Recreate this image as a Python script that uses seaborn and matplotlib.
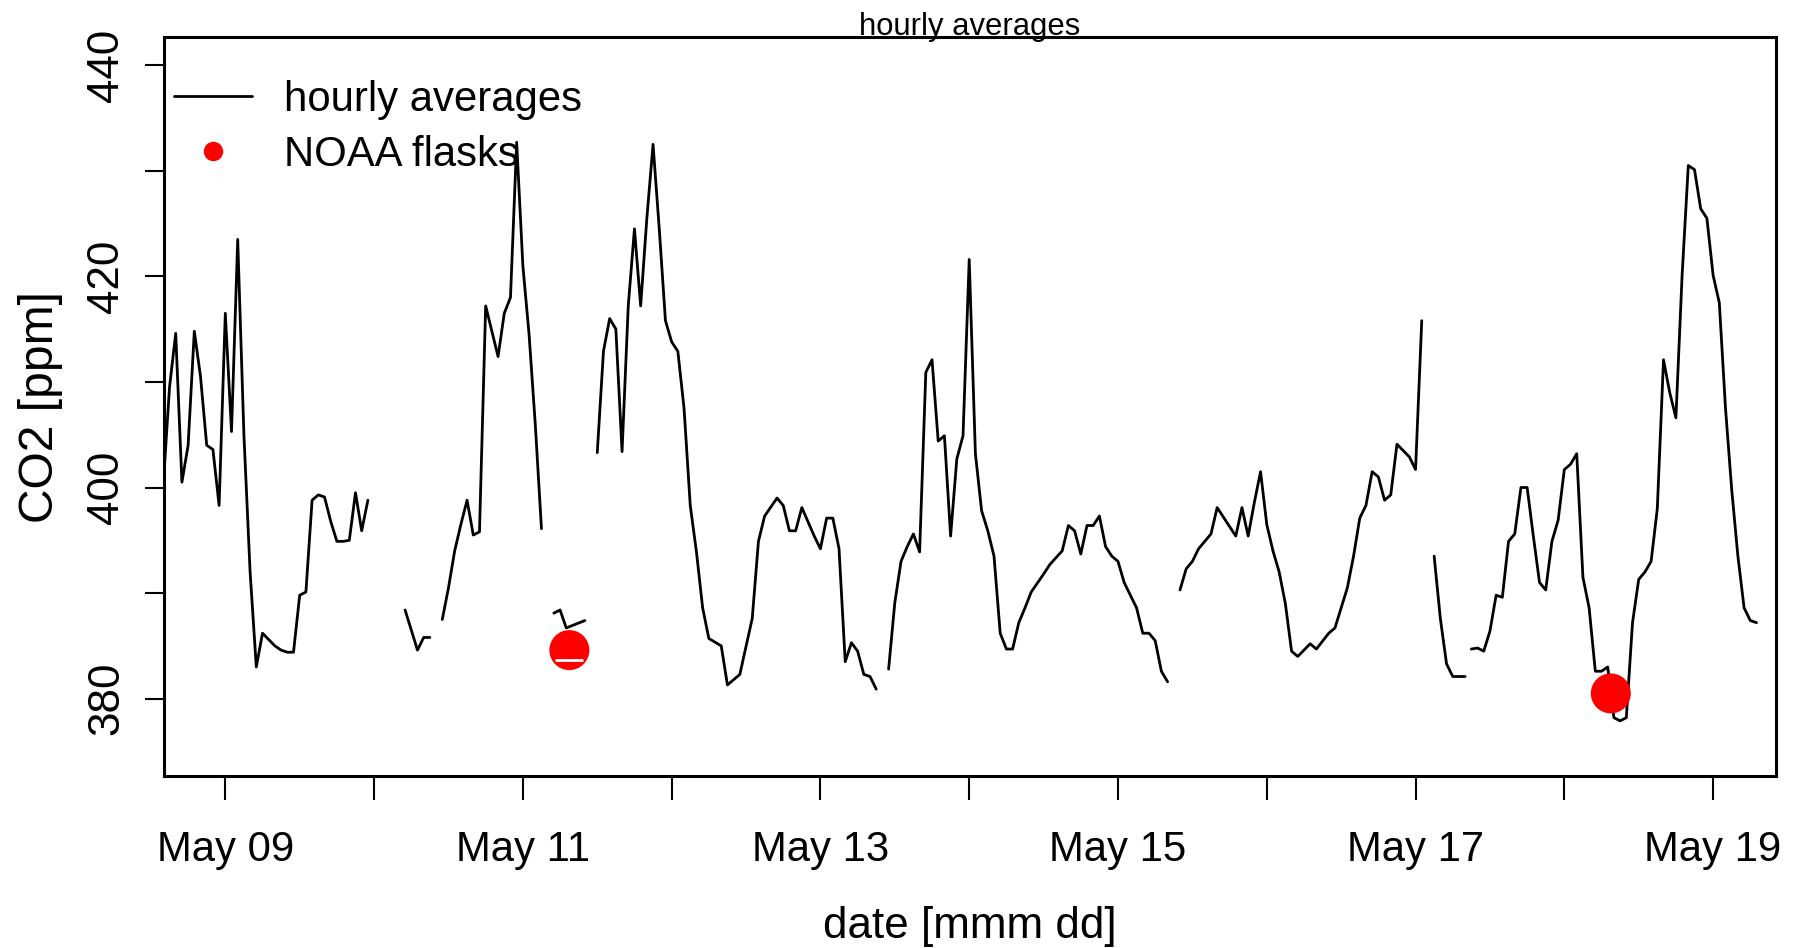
import matplotlib
matplotlib.use("Agg")
import matplotlib.pyplot as plt
from matplotlib.lines import Line2D
import pandas as pd
import seaborn as sns

# Hourly CO2 averages, hours counted from May 09 00:00; each list is one
# uninterrupted stretch of the record (gaps between them are missing data).
seg1_hours = [-10, -9, -8, -7, -6, -5, -4, -3, -2, -1, 0, 1, 2, 3, 4, 5, 6, 7,
              8, 9, 10, 11, 12, 13, 14, 15, 16, 17, 18, 19, 20, 21, 22, 23]
seg1_co2 = [400.3, 409.5, 414.6, 400.5, 404.0, 414.8, 410.5, 404.0, 403.6, 398.3,
            416.5, 405.3, 423.5, 405.0, 392.0, 383.0, 386.2, 385.6, 385.0, 384.6,
            384.4, 384.4, 389.8, 390.1, 398.8, 399.3, 399.1, 396.8, 394.9, 394.9,
            395.0, 399.5, 395.9, 398.8]

seg2_hours = [29, 31, 32, 33]
seg2_co2 = [388.4, 384.6, 385.8, 385.8]

seg3_hours = [35, 36, 37, 38, 39, 40, 41, 42, 43, 44, 45, 46, 47, 48, 49, 50, 51]
seg3_co2 = [387.5, 390.5, 394.0, 396.5, 398.8, 395.5, 395.8, 417.2, 414.8, 412.4,
            416.5, 418.0, 432.7, 421.0, 414.5, 406.0, 396.1]

seg4_hours = [53, 54, 55, 58]
seg4_co2 = [388.1, 388.4, 386.7, 387.4]

seg5_hours = [60, 61, 62, 63, 64, 65, 66, 67, 68, 69, 70, 71, 72, 73, 74, 75, 76,
              77, 78, 80, 81, 83, 85, 86, 87, 89, 90, 91, 92, 93, 95, 96, 97, 98,
              99, 100, 101, 102, 103, 104, 105]
seg5_co2 = [403.3, 412.9, 416.0, 415.0, 403.4, 417.2, 424.5, 417.2, 425.5, 432.5,
            424.5, 415.8, 413.8, 412.9, 407.5, 398.3, 393.9, 388.6, 385.7, 385.0,
            381.3, 382.3, 387.6, 394.9, 397.3, 399.0, 398.3, 395.9, 395.9, 398.1,
            395.4, 394.2, 397.1, 397.1, 394.2, 383.5, 385.3, 384.5, 382.3, 382.1,
            380.9]

seg6_hours = [107, 108, 109, 110, 111, 112, 113, 114, 115, 116, 117, 118, 119, 120,
              121, 122, 123, 124, 125, 126, 127, 128, 129, 130, 132, 133, 135, 136,
              137, 138, 139, 140, 141, 142, 143, 144, 145, 147, 148, 149, 150, 151,
              152]
seg6_co2 = [382.8, 389.1, 393.0, 394.4, 395.6, 393.9, 410.9, 412.1, 404.4, 404.9,
            395.4, 402.7, 404.9, 421.6, 403.2, 397.8, 395.9, 393.5, 386.2, 384.7,
            384.7, 387.2, 388.6, 390.1, 391.8, 392.7, 394.0, 396.4, 395.9, 393.7,
            396.4, 396.4, 397.3, 394.4, 393.5, 393.0, 391.0, 388.6, 386.2, 386.2,
            385.5, 382.6, 381.6]

seg7_hours = [154, 155, 156, 157, 159, 160, 163, 164, 165, 166, 167, 168, 169, 170,
              171, 172, 173, 175, 176, 178, 179, 181, 182, 183, 184, 185, 186, 187,
              188, 189, 191, 192, 193]
seg7_co2 = [390.3, 392.3, 393.0, 394.2, 395.6, 398.1, 395.4, 398.1, 395.4, 398.6,
            401.5, 396.5, 394.0, 392.0, 389.0, 384.5, 384.0, 385.2, 384.7, 386.2,
            386.7, 390.5, 393.5, 397.1, 398.3, 401.5, 401.0, 398.8, 399.3, 404.1,
            402.9, 401.7, 415.8]

seg8_hours = [195, 196, 197, 198, 200]
seg8_co2 = [393.5, 387.6, 383.3, 382.1, 382.1]

seg9_hours = [201, 202, 203, 204, 205, 206, 207, 208, 209, 210, 211, 212, 213, 214,
              215, 216, 217, 218, 219, 220, 221, 222, 223, 224, 225, 226, 227, 228,
              229, 230, 231, 232, 233, 234, 235, 236, 237, 238, 239, 240, 241, 242,
              243, 244, 245, 246, 247]
seg9_co2 = [384.7, 384.8, 384.5, 386.4, 389.8, 389.6, 394.9, 395.6, 400.0, 400.0,
            395.4, 391.0, 390.3, 394.9, 396.9, 401.7, 402.2, 403.2, 391.5, 388.6,
            382.6, 382.6, 383.0, 378.2, 377.9, 378.2, 387.2, 391.3, 392.0, 393.0,
            398.0, 412.1, 409.0, 406.6, 420.1, 430.5, 430.1, 426.4, 425.5, 420.1,
            417.5, 407.5, 399.8, 393.5, 388.6, 387.4, 387.2]

# NOAA flask samples (hours from May 09 00:00, ppm)
flask_hours = [55.5, 223.5]
flask_co2 = [384.6, 380.5]
flask_mark_co2 = [383.7]

tick_labels = ["May 09", "", "May 11", "", "May 13", "", "May 15", "",
               "May 17", "", "May 19"]
ytick_values = [380, 390, 400, 410, 420, 430, 440]
ytick_labels = ["380", "", "400", "", "420", "", "440"]

start = pd.Timestamp("2009-05-09 00:00")

segments = [(seg1_hours, seg1_co2), (seg2_hours, seg2_co2), (seg3_hours, seg3_co2),
            (seg4_hours, seg4_co2), (seg5_hours, seg5_co2), (seg6_hours, seg6_co2),
            (seg7_hours, seg7_co2), (seg8_hours, seg8_co2), (seg9_hours, seg9_co2)]
frames = []
for i, (hrs, vals) in enumerate(segments):
    frames.append(pd.DataFrame({
        "time": start + pd.to_timedelta(hrs, unit="h"),
        "co2": vals,
        "segment": i,
    }))
hourly = pd.concat(frames, ignore_index=True)

flasks = pd.DataFrame({
    "time": start + pd.to_timedelta(flask_hours, unit="h"),
    "co2": flask_co2,
})

sns.set_theme(style="ticks")
plt.rcParams["font.family"] = ["Liberation Sans", "DejaVu Sans"]
plt.rcParams["text.color"] = "black"
plt.rcParams["axes.labelcolor"] = "black"
plt.rcParams["xtick.color"] = "black"
plt.rcParams["ytick.color"] = "black"

fig = plt.figure(figsize=(17.93, 9.48), dpi=100)
ax = fig.add_axes([0.09119, 0.18091, 0.89917, 0.77954])

sns.lineplot(data=hourly, x="time", y="co2", units="segment", estimator=None,
             sort=False, color="black", linewidth=2.0, legend=False, ax=ax)
sns.scatterplot(data=flasks, x="time", y="co2", color="#ff0000", s=830,
                edgecolor="none", linewidth=0, legend=False, ax=ax, zorder=3)
ax.plot(flasks["time"].iloc[:1], flask_mark_co2, linestyle="none", marker="_",
        markersize=20, markeredgewidth=2, color="white", zorder=4)

ax.set_xlim(start - pd.Timedelta(hours=9.97), start + pd.Timedelta(hours=250.1))
ax.set_ylim(372.63, 442.62)

tick_pos = [start + pd.Timedelta(days=d) for d in range(len(tick_labels))]
ax.set_xticks(tick_pos)
ax.set_xticklabels(tick_labels)
ax.set_yticks(ytick_values)
ax.set_yticklabels(ytick_labels, rotation=90, va="center")

ax.tick_params(axis="x", length=17.3, width=1.5, pad=21, labelsize=30.2)
ax.tick_params(axis="y", length=14, width=1.5, pad=12.2, labelsize=31.7)

for side in ["left", "right", "top", "bottom"]:
    ax.spines[side].set_visible(True)
    ax.spines[side].set_linewidth(2.2)
    ax.spines[side].set_color("black")

ax.set_xlabel("date [mmm dd]", fontsize=31.7)
ax.set_ylabel("CO2 [ppm]", fontsize=34.6)
ax.xaxis.set_label_coords(0.5, -0.1759)
ax.yaxis.set_label_coords(-0.0621, 0.5)

ax.set_title("hourly averages", fontsize=22.3, pad=0, y=1.0027, va="baseline")

handles = [
    Line2D([], [], color="black", linewidth=2.0),
    Line2D([], [], color="#ff0000", marker="o", markersize=14.0, linestyle="none",
           markeredgewidth=0),
]
ax.legend(handles, ["hourly averages", "NOAA flasks"], loc="upper left",
          bbox_to_anchor=(0.0065, 0.9424), frameon=False, fontsize=30.2,
          borderaxespad=0, borderpad=0, handlelength=1.85, handletextpad=0.77,
          labelspacing=0.35)

fig.savefig("out.png", dpi=100)
